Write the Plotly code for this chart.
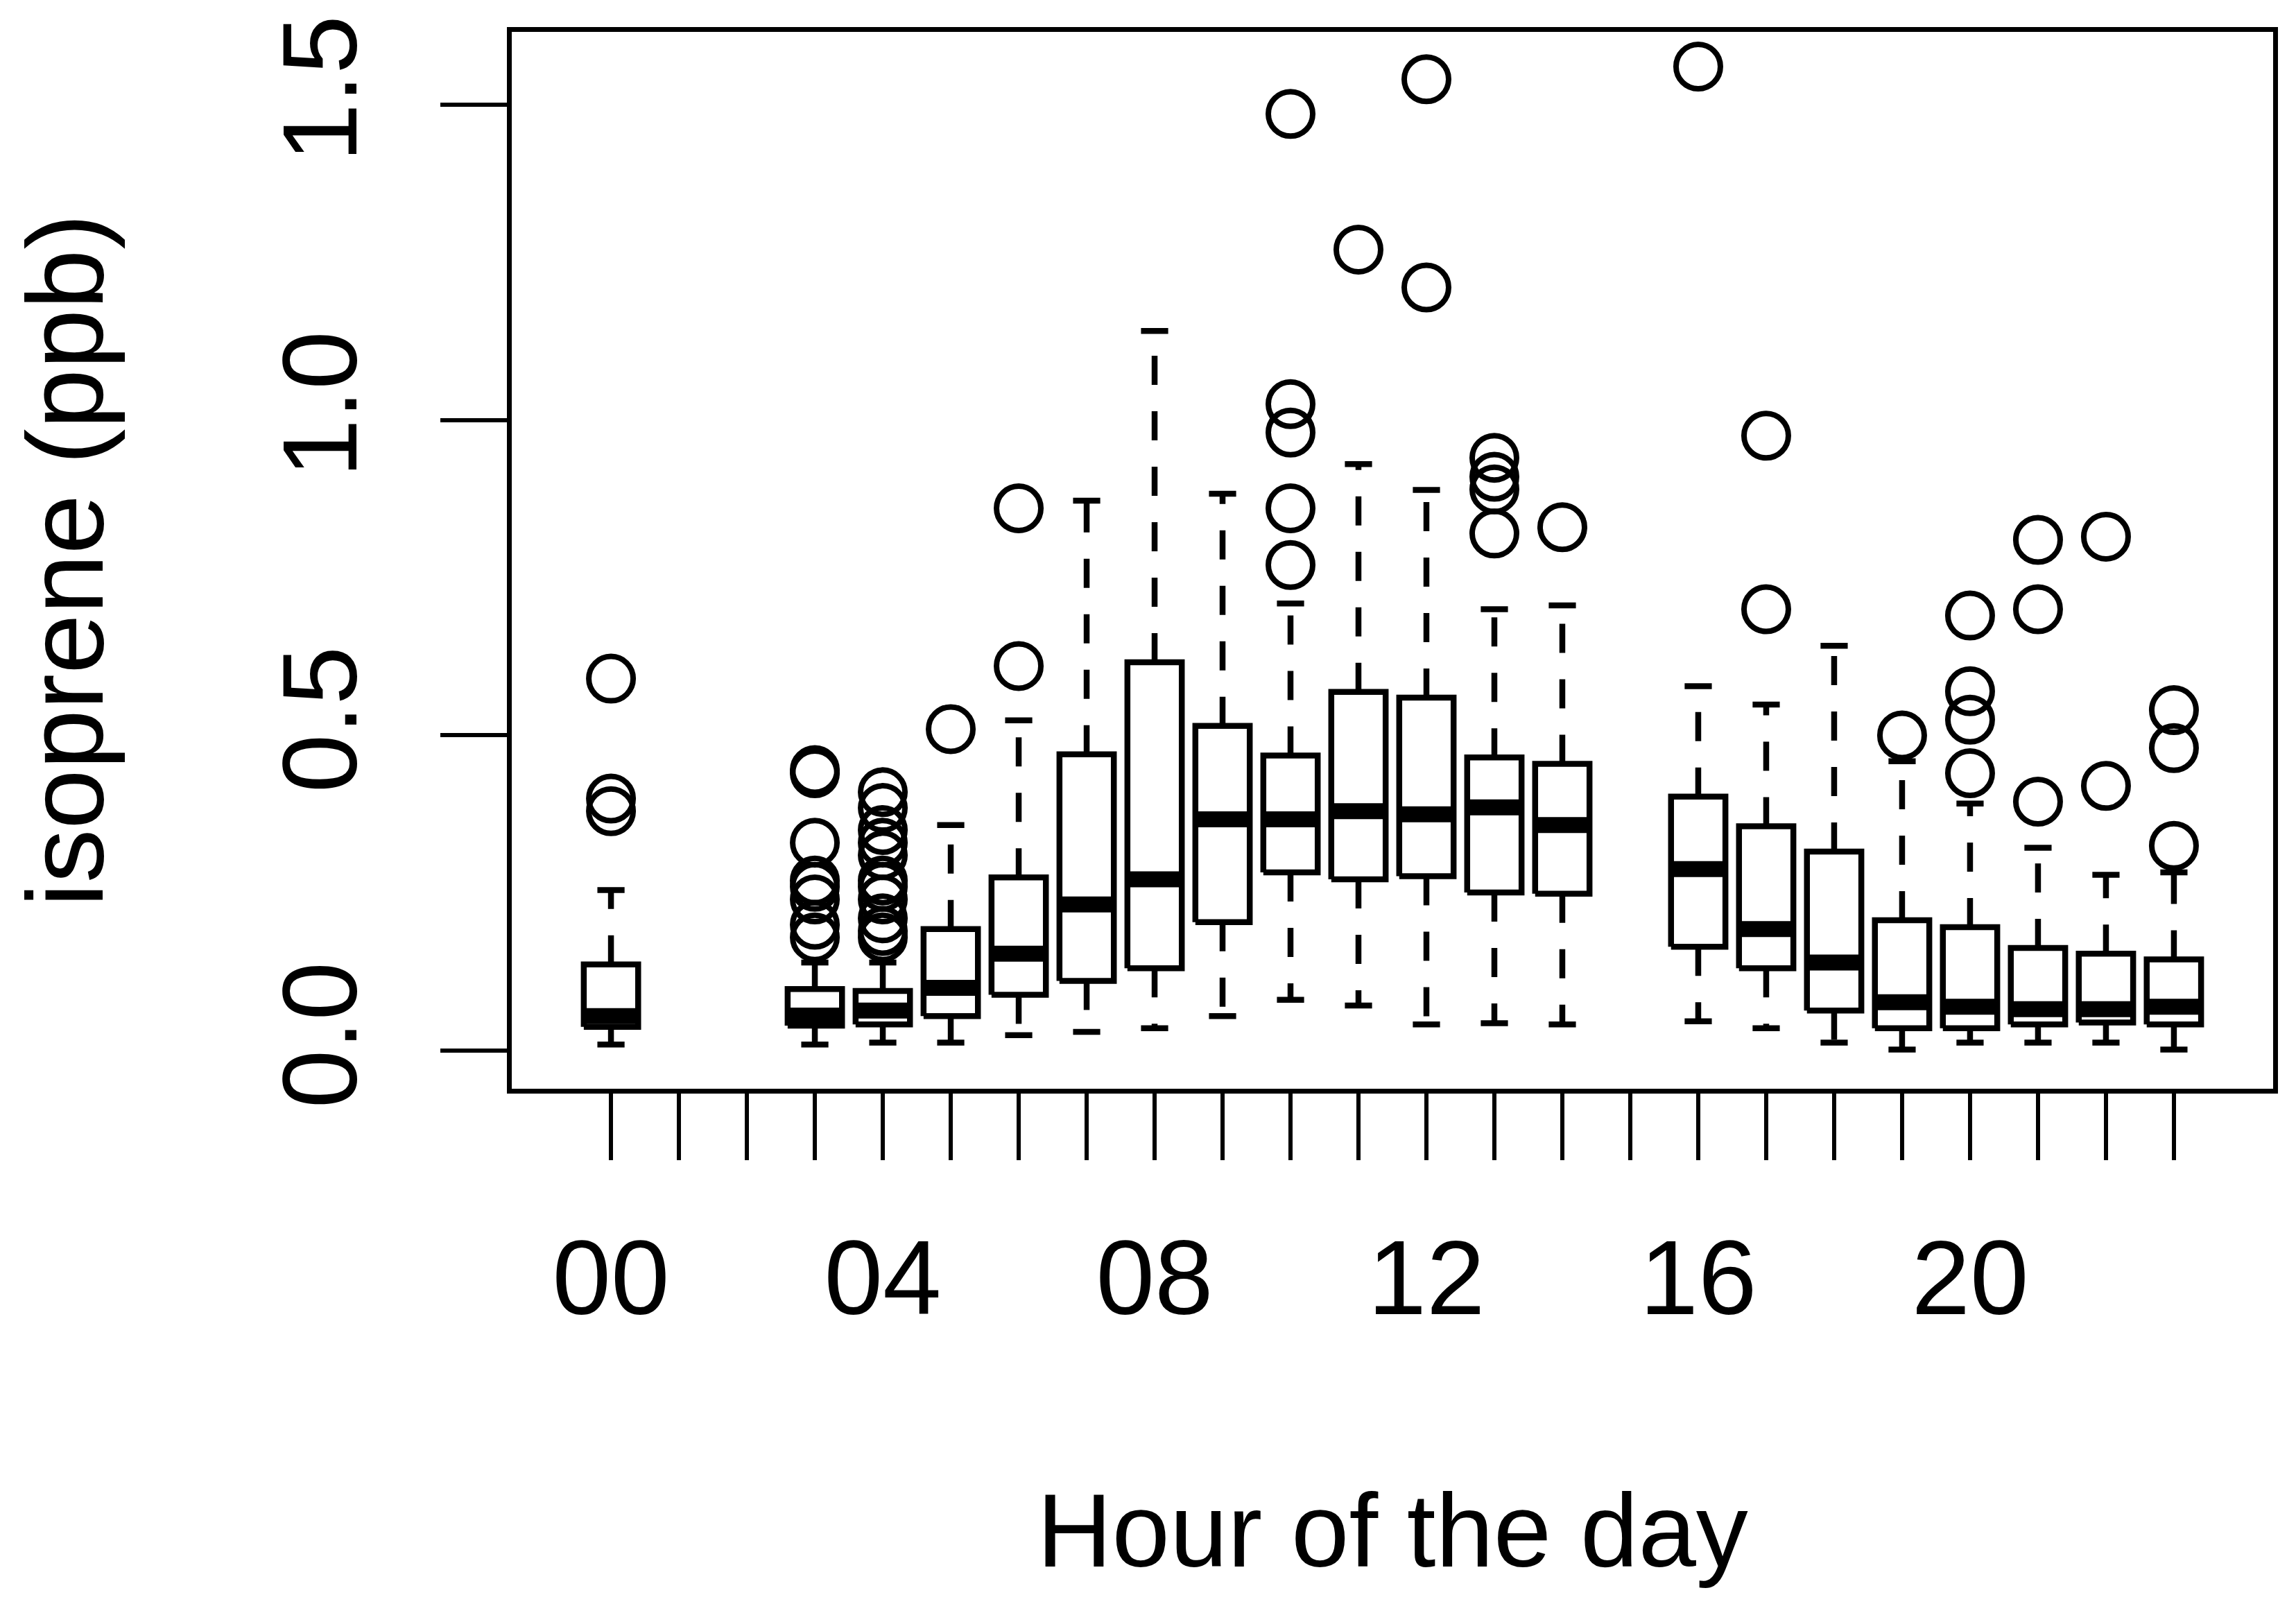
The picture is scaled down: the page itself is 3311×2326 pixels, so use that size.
import plotly.graph_objects as go

# hourly isoprene box statistics (ppb)
hours = [0, 3, 4, 5, 6, 7, 8, 9, 10, 11, 12, 13, 14, 16, 17, 18, 19, 20, 21, 22, 23]
lower = [0.010, 0.010, 0.013, 0.013, 0.025, 0.030, 0.036, 0.055, 0.081, 0.072, 0.042,
         0.044, 0.042, 0.047, 0.036, 0.013, 0.002, 0.013, 0.013, 0.013, 0.002]
q1 = [0.038, 0.040, 0.042, 0.055, 0.089, 0.111, 0.131, 0.204, 0.283, 0.272, 0.277,
      0.251, 0.249, 0.165, 0.131, 0.064, 0.036, 0.036, 0.042, 0.045, 0.042]
median = [0.055, 0.056, 0.064, 0.100, 0.154, 0.232, 0.272, 0.367, 0.367, 0.380, 0.375,
          0.386, 0.358, 0.288, 0.193, 0.140, 0.077, 0.070, 0.066, 0.066, 0.070]
q3 = [0.137, 0.098, 0.095, 0.193, 0.275, 0.470, 0.616, 0.515, 0.468, 0.569, 0.560,
      0.465, 0.455, 0.403, 0.356, 0.316, 0.207, 0.196, 0.163, 0.154, 0.145]
upper = [0.255, 0.140, 0.140, 0.358, 0.524, 0.872, 1.141, 0.883, 0.709, 0.930, 0.889,
         0.700, 0.706, 0.578, 0.549, 0.642, 0.459, 0.392, 0.322, 0.279, 0.283]

outliers = {
    0: [0.38, 0.40, 0.59],
    3: [0.18, 0.20, 0.24, 0.26, 0.27, 0.33, 0.44, 0.445],
    4: [0.18, 0.19, 0.21, 0.24, 0.26, 0.27, 0.31, 0.33, 0.35, 0.385, 0.41],
    5: [0.51],
    6: [0.61, 0.86],
    10: [0.77, 0.86, 0.98, 1.025, 1.485],
    11: [1.27],
    12: [1.21, 1.54],
    13: [0.82, 0.89, 0.91, 0.94],
    14: [0.83],
    16: [1.56],
    17: [0.70, 0.975],
    19: [0.50],
    20: [0.44, 0.525, 0.57, 0.69],
    21: [0.395, 0.70, 0.81],
    22: [0.42, 0.815],
    23: [0.325, 0.48, 0.54],
}

tick_hours = list(range(24))
tick_labels = ["00", "", "", "", "04", "", "", "", "08", "", "", "", "12", "", "", "",
               "16", "", "", "", "20", "", "", ""]

FONT = "Liberation Sans, Arial, sans-serif"
half = 0.4      # half box width
staple = 0.2    # half staple width
lw = 8.5

bx, by, mx, my, wx, wy, sx, sy = [], [], [], [], [], [], [], []
for h, lo, a, m, b, hi in zip(hours, lower, q1, median, q3, upper):
    bx += [h - half, h + half, h + half, h - half, h - half, None]
    by += [a, a, b, b, a, None]
    mx += [h - half, h + half, None]
    my += [m, m, None]
    wx += [h, h, None, h, h, None]
    wy += [b, hi, None, a, lo, None]
    sx += [h - staple, h + staple, None, h - staple, h + staple, None]
    sy += [hi, hi, None, lo, lo, None]

ox, oy = [], []
for h, vals in outliers.items():
    ox += [h] * len(vals)
    oy += vals

fig = go.Figure()
fig.add_trace(go.Scatter(x=wx, y=wy, mode="lines",
                         line=dict(color="black", width=lw, dash="42px,38px")))
fig.add_trace(go.Scatter(x=sx, y=sy, mode="lines", line=dict(color="black", width=lw)))
fig.add_trace(go.Scatter(x=bx, y=by, mode="lines", fill="toself", fillcolor="white",
                         line=dict(color="black", width=lw)))
fig.add_trace(go.Scatter(x=mx, y=my, mode="lines", line=dict(color="black", width=23)))
fig.add_trace(go.Scatter(x=ox, y=oy, mode="markers",
                         marker=dict(symbol="circle-open", size=64, color="black",
                                     line=dict(width=8, color="black"))))

fig.update_layout(
    width=3311, height=2326,
    margin=dict(l=730, r=41, t=38, b=764),
    paper_bgcolor="white", plot_bgcolor="white",
    showlegend=False,
    font=dict(family=FONT, size=152, color="black"),
)
fig.update_xaxes(
    range=[-1.46, 24.46], showgrid=False, zeroline=False,
    showline=True, mirror=True, linecolor="black", linewidth=7,
    tickmode="array", tickvals=tick_hours, ticktext=tick_labels,
    ticks="outside", ticklen=96, tickwidth=6, tickcolor="black",
    ticklabelstandoff=40,
    title=dict(text="Hour of the day", standoff=230, font=dict(size=150)),
)
fig.update_yaxes(
    range=[-0.06, 1.615], showgrid=False, zeroline=False,
    showline=True, mirror=True, linecolor="black", linewidth=7,
    tickmode="array", tickvals=[0, 0.5, 1.0, 1.5], ticktext=["0.0", "0.5", "1.0", "1.5"],
    ticks="outside", ticklen=96, tickwidth=6, tickcolor="black",
    tickangle=-90, ticklabelstandoff=60,
    title=dict(text="isoprene (ppb)", standoff=180, font=dict(size=155)),
)

fig.write_html("out.html")
